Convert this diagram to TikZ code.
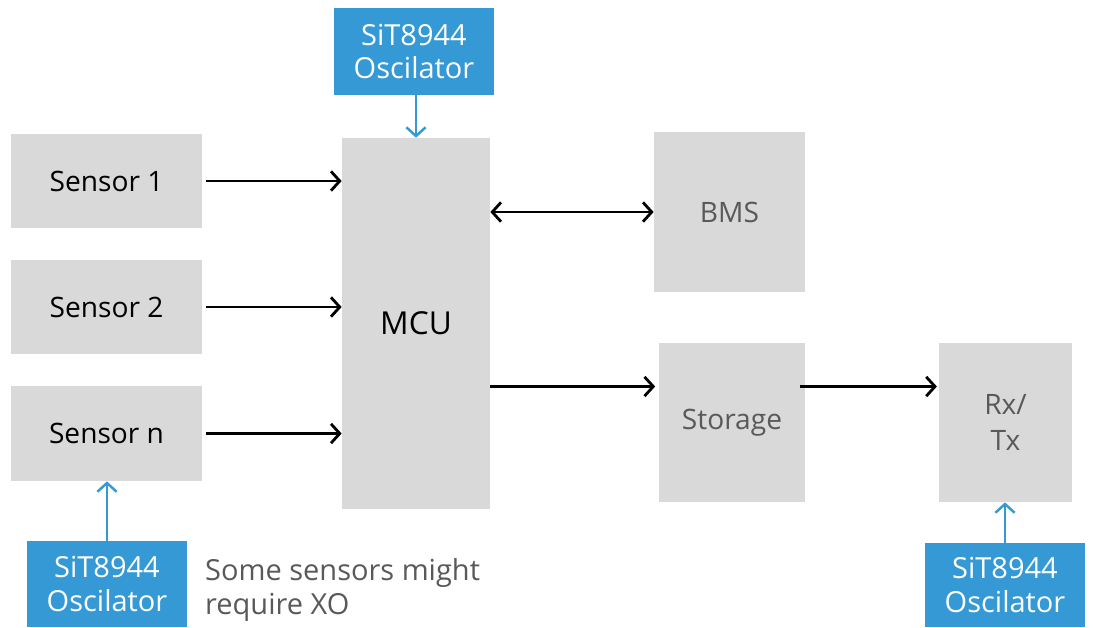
\documentclass[tikz,border=0pt]{standalone}
\usepackage{fontspec}
\setmainfont{Open Sans}
\usepackage{xcolor}
\usepackage{tikz}
\usetikzlibrary{arrows.meta, positioning}

\definecolor{boxgray}{HTML}{D9D9D9}
\definecolor{txtgray}{HTML}{595959}
\definecolor{oscblue}{HTML}{3499D5}

\tikzset{
  block/.style={fill=boxgray, inner sep=0pt, align=center, font=\fontsize{16}{20}\selectfont},
  oscbox/.style={fill=oscblue, text=white, inner sep=0pt, align=center,
    minimum width=3.2cm, font=\fontsize{16.5}{18.8}\selectfont},
  link/.style={line width=1.6pt, >={Straight Barb[length=5pt, width=11pt]}, ->},
  clk/.style={link, line width=1.4pt, oscblue}
}

\begin{document}
\begin{tikzpicture}[x=0.02cm, y=-0.02cm]
  \useasboundingbox (0,0) rectangle (1093,627);
  \node[block, minimum width=3.82cm, minimum height=1.88cm] (s1) at (106.5,181) {Sensor 1};
  \node[block, minimum width=3.82cm, minimum height=1.88cm] (s2) at (106.5,307) {Sensor 2};
  \node[block, minimum width=3.82cm, minimum height=1.90cm] (sn) at (106.5,433.5) {Sensor n};
  \node[block, minimum width=2.96cm, minimum height=7.42cm, font=\fontsize{18}{22}\selectfont] (mcu) at (416,323.5) {MCU};
  \node[block, text=txtgray, minimum width=3.02cm, minimum height=3.20cm] (bms) at (729.5,212) {BMS};
  \node[block, text=txtgray, minimum width=2.92cm, minimum height=3.18cm] (st) at (732,422.5) {\raisebox{-3pt}{Storage}};
  \node[block, text=txtgray, minimum width=2.66cm, minimum height=3.18cm] (rx) at (1005.5,422.5) {Rx/\\Tx};
  \node[oscbox, minimum height=1.74cm] (osct) at (414,51.5) {SiT8944\\Oscilator};
  \node[oscbox, minimum height=1.72cm] (oscl) at (107,584) {SiT8944\\Oscilator};
  \node[oscbox, minimum height=1.68cm] (oscr) at (1005,585) {SiT8944\\Oscilator};
  \node[anchor=north west, align=left, text=txtgray, font=\fontsize{16.5}{19.6}\selectfont] (note) at (199,552) {Some sensors might\\require XO};
  \coordinate (bus) at (0,386.5);

  \draw[link] ([xshift=2pt]s1.east) -- (s1.east -| mcu.west);
  \draw[link] ([xshift=2pt]s2.east) -- (s2.east -| mcu.west);
  \draw[link] ([xshift=2pt]sn.east) -- (sn.east -| mcu.west);
  \draw[link, <->] (bms.west -| mcu.east) -- (bms.west);
  \draw[link] (mcu.east |- bus) -- ([xshift=-2pt]st.west |- bus);
  \draw[link] ([xshift=-3pt]st.east |- bus) -- ([xshift=-1pt]rx.west |- bus);
  \draw[clk] (osct.south -| mcu.north) -- (mcu.north);
  \draw[clk] (oscl.north) -- (oscl.north |- sn.south);
  \draw[clk] (oscr.north) -- (oscr.north |- rx.south);
\end{tikzpicture}
\end{document}
